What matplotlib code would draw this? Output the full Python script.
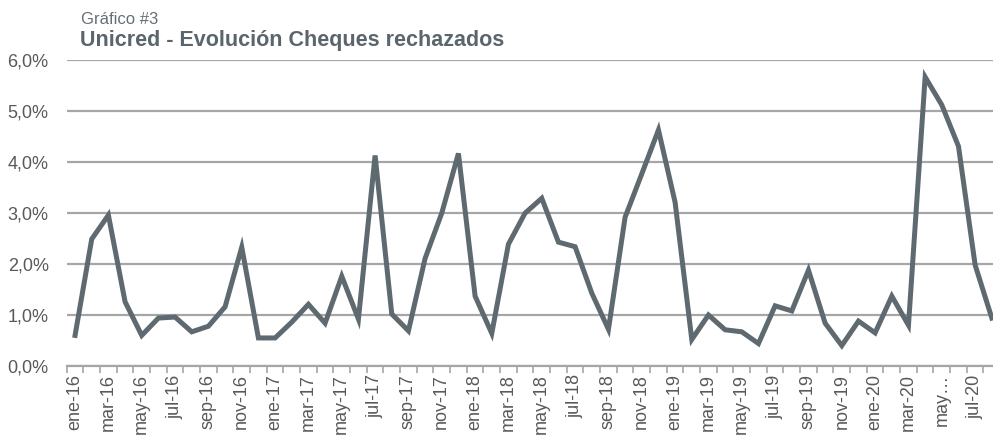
import numpy as np
import matplotlib.pyplot as plt

plt.rcParams['font.family'] = ['Liberation Sans', 'DejaVu Sans']

meses = ['ene', 'feb', 'mar', 'abr', 'may', 'jun',
         'jul', 'ago', 'sep', 'oct', 'nov', 'dic']
periodos = [f'{m}-{a}' for a in range(16, 21) for m in meses][:56]

rechazados = [0.60, 2.49, 2.96, 1.26, 0.60, 0.94, 0.96, 0.67, 0.78, 1.16,
              2.33, 0.55, 0.55, 0.86, 1.21, 0.84, 1.76, 0.92, 4.13, 1.02,
              0.69, 2.11, 3.00, 4.17, 1.37, 0.64, 2.39, 3.00, 3.29, 2.43,
              2.34, 1.43, 0.72, 2.92, 3.77, 4.63, 3.21, 0.52, 1.00, 0.71,
              0.67, 0.44, 1.18, 1.08, 1.88, 0.84, 0.40, 0.88, 0.65, 1.37,
              0.80, 5.67, 5.12, 4.31, 1.98, 0.94]

etiquetas = [p if i % 2 == 0 else '' for i, p in enumerate(periodos)]
etiquetas[52] = 'may…'

linea = '#5e6970'
grid = '#a6a6a6'
texto = '#595959'

fig = plt.figure(figsize=(9.93, 4.36), dpi=100)
ax = fig.add_axes([0.0672, 0.1606, 0.940, 0.7014])

x = np.arange(len(rechazados))
ax.plot(x, rechazados, color=linea, linewidth=3.6, solid_joinstyle='miter',
        zorder=3)

ax.set_xlim(-0.5, len(rechazados) - 0.5)
ax.set_ylim(0, 6)
ax.set_yticks(np.arange(0, 7, 1))
ax.set_yticklabels([f'{v:.1f}%'.replace('.', ',') for v in range(7)])
ax.yaxis.grid(True, color=grid, linewidth=1.6)
ax.set_axisbelow(True)

ax.set_xticks(x)
ax.set_xticklabels(etiquetas, rotation=90)
ax.set_xticks(np.arange(-0.5, len(rechazados), 1), minor=True)
ax.tick_params(axis='x', which='major', length=0, pad=6, labelsize=13,
               labelcolor=texto)
ax.tick_params(axis='x', which='minor', length=5, color=grid, width=1.2)
ax.tick_params(axis='y', length=0, pad=13, labelsize=13, labelcolor=texto)

for s in ['top', 'right', 'left']:
    ax.spines[s].set_visible(False)
ax.spines['bottom'].set_color(grid)
ax.spines['bottom'].set_linewidth(1.6)

fig.text(0.082, 0.946, 'Gráfico #3', fontsize=12, color='#666f76',
         va='baseline')
fig.text(0.081, 0.895, 'Unicred - Evolución Cheques rechazados',
         fontsize=15.5, fontweight='bold', color='#5a656c', va='baseline')

fig.savefig('out.png', dpi=100)
